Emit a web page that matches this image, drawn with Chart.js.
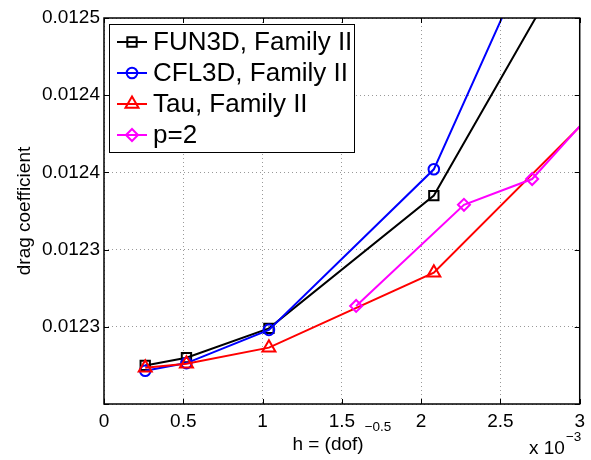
<!DOCTYPE html>
<html>
<head>
<meta charset="utf-8">
<script src="https://cdn.jsdelivr.net/npm/chart.js@4/dist/chart.umd.min.js"></script>
<style>
    html, body { margin: 0; padding: 0; background: #fff; }
    #wrap { width: 591px; height: 460px; }
</style>
</head>
<body>
<div id="wrap"><canvas id="dragChart" width="591" height="460"></canvas></div>
<script>
// Axis ticks (h is plotted in units of 1e-3)
const xTicks = [0, 0.5, 1, 1.5, 2, 2.5, 3];
const xTickLabels = ['0', '0.5', '1', '1.5', '2', '2.5', '3'];
const yTicks = [0.01225, 0.0123, 0.01235, 0.0124, 0.01245, 0.0125];
const yTickLabels = ['', '0.0123', '0.0123', '0.0124', '0.0124', '0.0125'];

// Family II grids
const hFamily = [0.26, 0.52, 1.04, 2.08, 4.16];
const fun3dCd = [0.012275, 0.01228, 0.012299, 0.012385, 0.012758];
const cfl3dCd = [0.0122715, 0.0122765, 0.012298, 0.012402, 0.012877];
const tauCd = [0.0122735, 0.012276, 0.0122865, 0.012335, 0.012549];

// p=2 results
const hP2 = [1.59, 2.27, 2.70, 3.6];
const p2Cd = [0.0123135, 0.012379, 0.0123957, 0.012498];

const FONT = "'Liberation Sans', Arial, Helvetica, sans-serif";

function toPoints(xs, ys) {
    return xs.map((x, i) => ({ x: x, y: ys[i] }));
}

function makeSeries(label, xs, ys, color, style, radius, order) {
    return {
        label: label,
        data: toPoints(xs, ys),
        borderColor: color,
        backgroundColor: 'rgba(0,0,0,0)',
        pointBorderColor: color,
        pointBackgroundColor: 'rgba(0,0,0,0)',
        pointStyle: style,
        pointRadius: radius,
        pointBorderWidth: 2,
        borderWidth: 2,
        tension: 0,
        fill: false,
        order: order
    };
}

// Frame, inward ticks, boxed legend and axis annotations
const frameAndLegend = {
    id: 'frameAndLegend',
    afterDraw(chart) {
        const ctx = chart.ctx;
        const area = chart.chartArea;
        const xs = chart.scales.x;
        const ys = chart.scales.y;
        ctx.save();

        // plot box
        ctx.strokeStyle = '#000';
        ctx.lineWidth = 1.5;
        ctx.strokeRect(area.left, area.top, area.right - area.left, area.bottom - area.top);

        // tick marks pointing into the plot
        const tl = 5;
        ctx.lineWidth = 1;
        ctx.beginPath();
        xTicks.forEach(v => {
            const px = Math.round(xs.getPixelForValue(v)) + 0.5;
            ctx.moveTo(px, area.bottom); ctx.lineTo(px, area.bottom - tl);
            ctx.moveTo(px, area.top); ctx.lineTo(px, area.top + tl);
        });
        yTicks.forEach(v => {
            const py = Math.round(ys.getPixelForValue(v)) + 0.5;
            ctx.moveTo(area.left, py); ctx.lineTo(area.left + tl, py);
            ctx.moveTo(area.right, py); ctx.lineTo(area.right - tl, py);
        });
        ctx.stroke();

        // legend box
        const lx = 109, ly = 24, lw = 245, lh = 128;
        ctx.fillStyle = '#fff';
        ctx.fillRect(lx, ly, lw, lh);
        ctx.strokeStyle = '#000';
        ctx.lineWidth = 1;
        ctx.strokeRect(lx + 0.5, ly + 0.5, lw, lh);

        ctx.font = '26px ' + FONT;
        ctx.textBaseline = 'middle';
        ctx.textAlign = 'left';
        chart.data.datasets.forEach((ds, i) => {
            const cy = 42 + i * 31;
            ctx.strokeStyle = ds.borderColor;
            ctx.lineWidth = ds.borderWidth;
            ctx.beginPath();
            ctx.moveTo(117, cy); ctx.lineTo(147, cy);
            ctx.stroke();
            ctx.lineWidth = ds.pointBorderWidth;
            ctx.fillStyle = 'rgba(0,0,0,0)';
            Chart.helpers.drawPoint(ctx, {
                pointStyle: ds.pointStyle,
                radius: ds.pointRadius,
                rotation: 0,
                borderWidth: ds.pointBorderWidth
            }, 132, cy);
            ctx.fillStyle = '#000';
            ctx.fillText(ds.label, 153, cy + 1);
        });

        // x axis title with superscript
        ctx.fillStyle = '#000';
        ctx.textBaseline = 'alphabetic';
        ctx.font = '19px ' + FONT;
        const base = 'h = (dof)';
        const wBase = ctx.measureText(base).width;
        ctx.font = '13.5px ' + FONT;
        const sup = '\u22120.5';
        const wSup = ctx.measureText(sup).width;
        const cx = (area.left + area.right) / 2;
        const startX = cx - (wBase + wSup + 1) / 2;
        ctx.font = '19px ' + FONT;
        ctx.fillText(base, startX, 450);
        ctx.font = '13.5px ' + FONT;
        ctx.fillText(sup, startX + wBase + 1, 431);

        // exponent of the x axis
        ctx.font = '19px ' + FONT;
        ctx.fillText('x 10', 529, 454);
        const wx = ctx.measureText('x 10').width;
        ctx.font = '13.5px ' + FONT;
        ctx.fillText('\u22123', 529 + wx + 1, 441);

        ctx.restore();
    }
};

const ctx = document.getElementById('dragChart').getContext('2d');
const dragChart = new Chart(ctx, {
    type: 'line',
    data: {
        datasets: [
            makeSeries('FUN3D, Family II', hFamily, fun3dCd, '#000000', 'rect', 6.6, 3),
            makeSeries('CFL3D, Family II', hFamily, cfl3dCd, '#0000ff', 'circle', 5.3, 2),
            makeSeries('Tau, Family II', hFamily, tauCd, '#ff0000', 'triangle', 7.5, 1),
            makeSeries('p=2', hP2, p2Cd, '#ff00ff', 'rectRot', 6, 0)
        ]
    },
    options: {
        responsive: false,
        animation: false,
        layout: { padding: { left: 0, top: 18, right: 10, bottom: 0 } },
        plugins: {
            legend: { display: false },
            tooltip: { enabled: false }
        },
        scales: {
            x: {
                type: 'linear',
                min: 0,
                max: 3,
                afterBuildTicks: s => { s.ticks = xTicks.map(v => ({ value: v })); },
                afterFit: s => { s.height = 56; },
                ticks: {
                    callback: (v, i) => xTickLabels[i],
                    color: '#000',
                    padding: 6,
                    maxRotation: 0,
                    font: { family: FONT, size: 19 }
                },
                grid: { color: '#999', lineWidth: 1, drawTicks: false },
                border: { display: false, dash: [1, 3] }
            },
            y: {
                type: 'linear',
                min: 0.01225,
                max: 0.0125,
                afterBuildTicks: s => { s.ticks = yTicks.map(v => ({ value: v })); },
                afterFit: s => { s.width = 104; },
                ticks: {
                    callback: (v, i) => yTickLabels[i],
                    color: '#000',
                    padding: 4,
                    font: { family: FONT, size: 19 }
                },
                title: {
                    display: true,
                    text: 'drag coefficient',
                    color: '#000',
                    padding: { top: 13, bottom: 0 },
                    font: { family: FONT, size: 19 }
                },
                grid: { color: '#999', lineWidth: 1, drawTicks: false },
                border: { display: false, dash: [1, 3] }
            }
        }
    },
    plugins: [frameAndLegend]
});
</script>
</body>
</html>
